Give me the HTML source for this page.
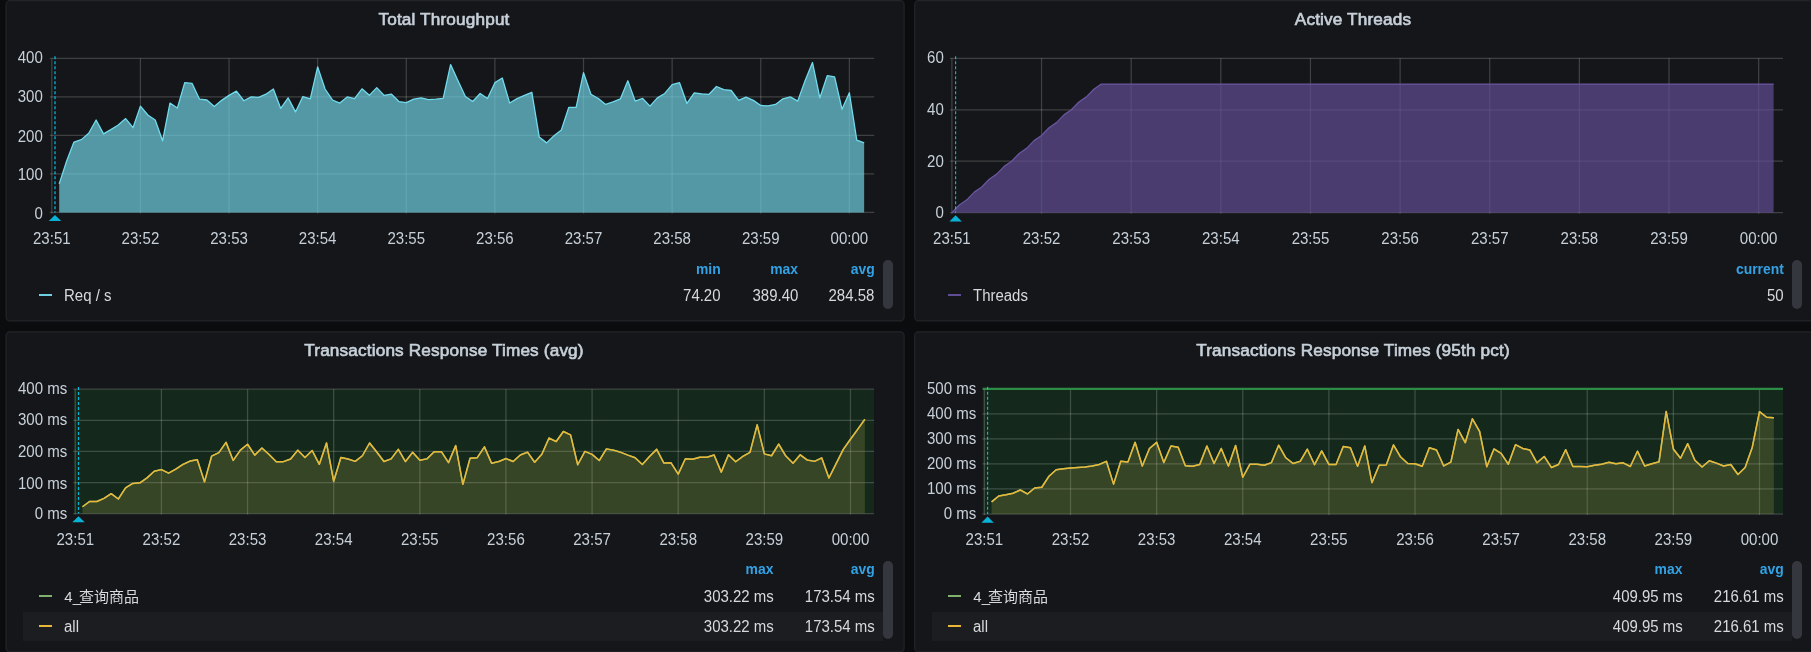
<!DOCTYPE html>
<html lang="en"><head><meta charset="utf-8"><title>Dashboard</title>
<style>
*{box-sizing:border-box;margin:0;padding:0}
html,body{width:1811px;height:652px;overflow:hidden;background:#0b0c0e}
body{will-change:transform;font-family:"Liberation Sans","Noto Sans CJK SC",sans-serif;color:#c7d0d9;position:relative}
.panel{position:absolute;width:899px;height:321px;border:1px solid transparent;overflow:hidden}
.frames{position:absolute;left:0;top:0}
.panel>*{position:absolute}
.chart{left:-1px;top:-1px}
.title{left:-1px;top:-1px;width:878px;height:38px;line-height:38px;text-align:center;font-size:17.2px;letter-spacing:0.15px;-webkit-text-stroke:0.65px #c7d0d9;white-space:nowrap}
.ax{font-size:15.8px;fill:#c7d0d9;font-family:"Liberation Sans",sans-serif}
.legend{left:16.9px;width:859.9px;font-size:15px;color:#d8d9da}
.lrow{position:relative;height:30px;line-height:29px;white-space:nowrap}
.lrow.lh{height:23.4px;line-height:23.2px}
.lrow.alt{background:#1c1d21;height:29.2px}
.lrow>*{position:absolute;top:0}
.hd{color:#33a2e5;font-weight:bold;font-size:13.9px}
.us{letter-spacing:-1.9px}
.ic{left:16.1px;top:13.5px !important;width:13.2px;height:2px;display:block}
.nm{left:41.4px;font-size:15.8px;transform:scaleX(0.948);transform-origin:left center}
.nm.cjk{font-size:15px;transform:none}
.val{font-size:15.8px;transform:scaleX(0.948);transform-origin:right center}
.thumb{left:877.3px;width:10px;border-radius:5px;background:#35373f}
</style></head><body>
<svg class="frames" width="1811" height="652" viewBox="0 0 1811 652">
<rect x="6.125" y="0.725" width="897.95" height="320.15" rx="3.75" fill="#141619" stroke="#222429" stroke-width="1.25"/>
<rect x="914.725" y="0.725" width="897.95" height="320.15" rx="3.75" fill="#141619" stroke="#222429" stroke-width="1.25"/>
<rect x="6.125" y="331.825" width="897.95" height="320.15" rx="3.75" fill="#141619" stroke="#222429" stroke-width="1.25"/>
<rect x="914.725" y="331.825" width="897.95" height="320.15" rx="3.75" fill="#141619" stroke="#222429" stroke-width="1.25"/>
</svg>
<section class="panel" style="left:5px;top:0px">
<svg class="chart" width="899" height="321" viewBox="0 0 899 321">
<path d="M135.42 58.4 V213.4 M224.04 58.4 V213.4 M312.66 58.4 V213.4 M401.28 58.4 V213.4 M489.9 58.4 V213.4 M578.52 58.4 V213.4 M667.14 58.4 V213.4 M755.76 58.4 V213.4 M844.38 58.4 V213.4 M46.8 58.4 V213.4" fill="none" stroke="rgba(255,255,255,0.18)" stroke-width="1.25"/>
<path d="M44.8 212.4 H869.2 M44.8 173.9 H869.2 M44.8 135.4 H869.2 M44.8 96.9 H869.2 M44.8 58.4 H869.2" fill="none" stroke="rgba(255,255,255,0.18)" stroke-width="1.25"/>
<path d="M54.18 183.83 L61.57 161.19 L68.95 142.1 L76.34 139.63 L83.72 133.24 L91.11 120 L98.5 133.86 L105.88 129.62 L113.27 125.01 L120.65 118.58 L128.03 127.7 L135.42 106.14 L142.81 115 L150.19 120 L157.57 140.79 L164.96 103.06 L172.35 108.07 L179.73 82.66 L187.12 83.43 L194.5 99.21 L201.88 99.98 L209.27 106.53 L216.66 100.36 L224.04 95.36 L231.43 91.13 L238.81 100.75 L246.19 96.9 L253.58 97.28 L260.96 94.21 L268.35 89.01 L275.74 108.45 L283.12 97.86 L290.5 111.92 L297.89 96.52 L305.28 98.83 L312.66 66.87 L320.05 89.01 L327.43 99.98 L334.81 103.06 L342.2 96.9 L349.59 98.63 L356.97 88.82 L364.36 95.36 L371.74 87.66 L379.13 95.36 L386.51 94.21 L393.9 101.52 L401.28 102.67 L408.67 99.21 L416.05 97.86 L423.44 99.59 L430.82 99.21 L438.21 98.44 L445.59 64.56 L452.98 80.73 L460.36 96.52 L467.75 101.52 L475.13 93.44 L482.52 98.44 L489.9 82.66 L497.29 78.03 L504.67 103.06 L512.05 98.63 L519.44 95.36 L526.83 92.28 L534.21 136.94 L541.6 142.87 L548.98 135.79 L556.37 130.01 L563.75 107.45 L571.13 107.3 L578.52 72.65 L585.9 94.21 L593.29 98.44 L600.67 104.41 L608.06 101.91 L615.45 98.83 L622.83 80.73 L630.21 101.14 L637.6 98.44 L644.99 106.14 L652.37 97.86 L659.75 93.44 L667.14 84.7 L674.52 82.66 L681.91 103.45 L689.29 92.78 L696.68 93.82 L704.07 94.32 L711.45 86.51 L718.83 89.59 L726.22 90.51 L733.61 100.36 L740.99 97.09 L748.38 100.36 L755.76 105.45 L763.15 105.95 L770.53 104.41 L777.91 98.83 L785.3 96.9 L792.68 101.14 L800.07 80.73 L807.46 62.48 L814.84 97.86 L822.23 75.73 L829.61 76.88 L836.99 109.22 L844.38 92.78 L851.77 140.02 L859.15 142.87 L859.15 212.4 L54.18 212.4 Z" fill="rgba(110,208,224,0.7)" stroke="none"/>
<path d="M54.18 183.83 L61.57 161.19 L68.95 142.1 L76.34 139.63 L83.72 133.24 L91.11 120 L98.5 133.86 L105.88 129.62 L113.27 125.01 L120.65 118.58 L128.03 127.7 L135.42 106.14 L142.81 115 L150.19 120 L157.57 140.79 L164.96 103.06 L172.35 108.07 L179.73 82.66 L187.12 83.43 L194.5 99.21 L201.88 99.98 L209.27 106.53 L216.66 100.36 L224.04 95.36 L231.43 91.13 L238.81 100.75 L246.19 96.9 L253.58 97.28 L260.96 94.21 L268.35 89.01 L275.74 108.45 L283.12 97.86 L290.5 111.92 L297.89 96.52 L305.28 98.83 L312.66 66.87 L320.05 89.01 L327.43 99.98 L334.81 103.06 L342.2 96.9 L349.59 98.63 L356.97 88.82 L364.36 95.36 L371.74 87.66 L379.13 95.36 L386.51 94.21 L393.9 101.52 L401.28 102.67 L408.67 99.21 L416.05 97.86 L423.44 99.59 L430.82 99.21 L438.21 98.44 L445.59 64.56 L452.98 80.73 L460.36 96.52 L467.75 101.52 L475.13 93.44 L482.52 98.44 L489.9 82.66 L497.29 78.03 L504.67 103.06 L512.05 98.63 L519.44 95.36 L526.83 92.28 L534.21 136.94 L541.6 142.87 L548.98 135.79 L556.37 130.01 L563.75 107.45 L571.13 107.3 L578.52 72.65 L585.9 94.21 L593.29 98.44 L600.67 104.41 L608.06 101.91 L615.45 98.83 L622.83 80.73 L630.21 101.14 L637.6 98.44 L644.99 106.14 L652.37 97.86 L659.75 93.44 L667.14 84.7 L674.52 82.66 L681.91 103.45 L689.29 92.78 L696.68 93.82 L704.07 94.32 L711.45 86.51 L718.83 89.59 L726.22 90.51 L733.61 100.36 L740.99 97.09 L748.38 100.36 L755.76 105.45 L763.15 105.95 L770.53 104.41 L777.91 98.83 L785.3 96.9 L792.68 101.14 L800.07 80.73 L807.46 62.48 L814.84 97.86 L822.23 75.73 L829.61 76.88 L836.99 109.22 L844.38 92.78 L851.77 140.02 L859.15 142.87" fill="none" stroke="#70dbed" stroke-width="1.3" stroke-linejoin="round"/>
<path d="M50 56.3 V212.4" stroke="rgba(0,211,255,0.55)" stroke-width="2.0" stroke-dasharray="3 2" fill="none"/>
<path d="M50 215 L56.2 221.1 L43.8 221.1 Z" fill="#0ab2d8"/>
<text transform="translate(37.8 218.9) scale(0.953 1)" text-anchor="end" class="ax">0</text>
<text transform="translate(37.8 179.9) scale(0.953 1)" text-anchor="end" class="ax">100</text>
<text transform="translate(37.8 142.1) scale(0.953 1)" text-anchor="end" class="ax">200</text>
<text transform="translate(37.8 101.9) scale(0.953 1)" text-anchor="end" class="ax">300</text>
<text transform="translate(37.8 63.3) scale(0.953 1)" text-anchor="end" class="ax">400</text>
<text transform="translate(46.8 243.7) scale(0.953 1)" text-anchor="middle" class="ax">23:51</text>
<text transform="translate(135.42 243.7) scale(0.953 1)" text-anchor="middle" class="ax">23:52</text>
<text transform="translate(224.04 243.7) scale(0.953 1)" text-anchor="middle" class="ax">23:53</text>
<text transform="translate(312.66 243.7) scale(0.953 1)" text-anchor="middle" class="ax">23:54</text>
<text transform="translate(401.28 243.7) scale(0.953 1)" text-anchor="middle" class="ax">23:55</text>
<text transform="translate(489.9 243.7) scale(0.953 1)" text-anchor="middle" class="ax">23:56</text>
<text transform="translate(578.52 243.7) scale(0.953 1)" text-anchor="middle" class="ax">23:57</text>
<text transform="translate(667.14 243.7) scale(0.953 1)" text-anchor="middle" class="ax">23:58</text>
<text transform="translate(755.76 243.7) scale(0.953 1)" text-anchor="middle" class="ax">23:59</text>
<text transform="translate(844.38 243.7) scale(0.953 1)" text-anchor="middle" class="ax">00:00</text>
</svg>
<h2 class="title" style="font-weight:normal">Total Throughput</h2>
<div class="legend" style="top:256.6px">
<div class="lrow lh"><span class="hd" style="right:162.1px">min</span><span class="hd" style="right:84.8px">max</span><span class="hd" style="right:8px">avg</span></div>
<div class="lrow"><i class="ic" style="background:#6ed0e0"></i><span class="nm">Req / s</span><span class="val" style="right:162.1px">74.20</span><span class="val" style="right:84.8px">389.40</span><span class="val" style="right:8px">284.58</span></div>
</div>
<div class="thumb" style="top:259px;height:48.8px"></div>
</section>
<section class="panel" style="left:914px;top:0px">
<svg class="chart" width="899" height="321" viewBox="0 0 899 321">
<path d="M127.54 58.3 V213.7 M217.18 58.3 V213.7 M306.82 58.3 V213.7 M396.46 58.3 V213.7 M486.1 58.3 V213.7 M575.74 58.3 V213.7 M665.38 58.3 V213.7 M755.02 58.3 V213.7 M844.66 58.3 V213.7 M37.9 58.3 V213.7" fill="none" stroke="rgba(255,255,255,0.18)" stroke-width="1.25"/>
<path d="M35.9 212.7 H869 M35.9 161.23 H869 M35.9 109.77 H869 M35.9 58.3 H869" fill="none" stroke="rgba(255,255,255,0.18)" stroke-width="1.25"/>
<path d="M37.9 212.7 L45.37 204.98 L52.84 199.83 L60.31 192.11 L67.78 186.97 L75.25 179.25 L82.72 174.1 L90.19 166.38 L97.66 161.23 L105.13 153.51 L112.6 148.37 L120.07 140.65 L127.54 135.5 L135.01 127.78 L142.48 122.63 L149.95 114.91 L157.42 109.77 L164.89 102.05 L172.36 96.9 L179.83 89.18 L187.3 84.03 L194.77 84.03 L202.24 84.03 L209.71 84.03 L217.18 84.03 L224.65 84.03 L232.12 84.03 L239.59 84.03 L247.06 84.03 L254.53 84.03 L262 84.03 L269.47 84.03 L276.94 84.03 L284.41 84.03 L291.88 84.03 L299.35 84.03 L306.82 84.03 L314.29 84.03 L321.76 84.03 L329.23 84.03 L336.7 84.03 L344.17 84.03 L351.64 84.03 L359.11 84.03 L366.58 84.03 L374.05 84.03 L381.52 84.03 L388.99 84.03 L396.46 84.03 L403.93 84.03 L411.4 84.03 L418.87 84.03 L426.34 84.03 L433.81 84.03 L441.28 84.03 L448.75 84.03 L456.22 84.03 L463.69 84.03 L471.16 84.03 L478.63 84.03 L486.1 84.03 L493.57 84.03 L501.04 84.03 L508.51 84.03 L515.98 84.03 L523.45 84.03 L530.92 84.03 L538.39 84.03 L545.86 84.03 L553.33 84.03 L560.8 84.03 L568.27 84.03 L575.74 84.03 L583.21 84.03 L590.68 84.03 L598.15 84.03 L605.62 84.03 L613.09 84.03 L620.56 84.03 L628.03 84.03 L635.5 84.03 L642.97 84.03 L650.44 84.03 L657.91 84.03 L665.38 84.03 L672.85 84.03 L680.32 84.03 L687.79 84.03 L695.26 84.03 L702.73 84.03 L710.2 84.03 L717.67 84.03 L725.14 84.03 L732.61 84.03 L740.08 84.03 L747.55 84.03 L755.02 84.03 L762.49 84.03 L769.96 84.03 L777.43 84.03 L784.9 84.03 L792.37 84.03 L799.84 84.03 L807.31 84.03 L814.78 84.03 L822.25 84.03 L829.72 84.03 L837.19 84.03 L844.66 84.03 L852.13 84.03 L859.6 84.03 L859.6 212.7 L37.9 212.7 Z" fill="rgba(97,77,147,0.7)" stroke="none"/>
<path d="M37.9 212.7 L45.37 204.98 L52.84 199.83 L60.31 192.11 L67.78 186.97 L75.25 179.25 L82.72 174.1 L90.19 166.38 L97.66 161.23 L105.13 153.51 L112.6 148.37 L120.07 140.65 L127.54 135.5 L135.01 127.78 L142.48 122.63 L149.95 114.91 L157.42 109.77 L164.89 102.05 L172.36 96.9 L179.83 89.18 L187.3 84.03 L194.77 84.03 L202.24 84.03 L209.71 84.03 L217.18 84.03 L224.65 84.03 L232.12 84.03 L239.59 84.03 L247.06 84.03 L254.53 84.03 L262 84.03 L269.47 84.03 L276.94 84.03 L284.41 84.03 L291.88 84.03 L299.35 84.03 L306.82 84.03 L314.29 84.03 L321.76 84.03 L329.23 84.03 L336.7 84.03 L344.17 84.03 L351.64 84.03 L359.11 84.03 L366.58 84.03 L374.05 84.03 L381.52 84.03 L388.99 84.03 L396.46 84.03 L403.93 84.03 L411.4 84.03 L418.87 84.03 L426.34 84.03 L433.81 84.03 L441.28 84.03 L448.75 84.03 L456.22 84.03 L463.69 84.03 L471.16 84.03 L478.63 84.03 L486.1 84.03 L493.57 84.03 L501.04 84.03 L508.51 84.03 L515.98 84.03 L523.45 84.03 L530.92 84.03 L538.39 84.03 L545.86 84.03 L553.33 84.03 L560.8 84.03 L568.27 84.03 L575.74 84.03 L583.21 84.03 L590.68 84.03 L598.15 84.03 L605.62 84.03 L613.09 84.03 L620.56 84.03 L628.03 84.03 L635.5 84.03 L642.97 84.03 L650.44 84.03 L657.91 84.03 L665.38 84.03 L672.85 84.03 L680.32 84.03 L687.79 84.03 L695.26 84.03 L702.73 84.03 L710.2 84.03 L717.67 84.03 L725.14 84.03 L732.61 84.03 L740.08 84.03 L747.55 84.03 L755.02 84.03 L762.49 84.03 L769.96 84.03 L777.43 84.03 L784.9 84.03 L792.37 84.03 L799.84 84.03 L807.31 84.03 L814.78 84.03 L822.25 84.03 L829.72 84.03 L837.19 84.03 L844.66 84.03 L852.13 84.03 L859.6 84.03" fill="none" stroke="#6a55a0" stroke-width="1.3" stroke-linejoin="round"/>
<path d="M41.6 56.2 V212.7" stroke="rgba(0,211,255,0.85)" stroke-width="1.15" stroke-dasharray="3 2" fill="none"/>
<path d="M41.6 215.3 L47.8 221.4 L35.4 221.4 Z" fill="#0ab2d8"/>
<text transform="translate(29.8 218.3) scale(0.953 1)" text-anchor="end" class="ax">0</text>
<text transform="translate(29.8 166.53) scale(0.953 1)" text-anchor="end" class="ax">20</text>
<text transform="translate(29.8 114.67) scale(0.953 1)" text-anchor="end" class="ax">40</text>
<text transform="translate(29.8 63.2) scale(0.953 1)" text-anchor="end" class="ax">60</text>
<text transform="translate(37.9 244) scale(0.953 1)" text-anchor="middle" class="ax">23:51</text>
<text transform="translate(127.54 244) scale(0.953 1)" text-anchor="middle" class="ax">23:52</text>
<text transform="translate(217.18 244) scale(0.953 1)" text-anchor="middle" class="ax">23:53</text>
<text transform="translate(306.82 244) scale(0.953 1)" text-anchor="middle" class="ax">23:54</text>
<text transform="translate(396.46 244) scale(0.953 1)" text-anchor="middle" class="ax">23:55</text>
<text transform="translate(486.1 244) scale(0.953 1)" text-anchor="middle" class="ax">23:56</text>
<text transform="translate(575.74 244) scale(0.953 1)" text-anchor="middle" class="ax">23:57</text>
<text transform="translate(665.38 244) scale(0.953 1)" text-anchor="middle" class="ax">23:58</text>
<text transform="translate(755.02 244) scale(0.953 1)" text-anchor="middle" class="ax">23:59</text>
<text transform="translate(844.66 244) scale(0.953 1)" text-anchor="middle" class="ax">00:00</text>
</svg>
<h2 class="title" style="font-weight:normal">Active Threads</h2>
<div class="legend" style="top:256.6px">
<div class="lrow lh"><span class="hd" style="right:8px">current</span></div>
<div class="lrow"><i class="ic" style="background:#614d93"></i><span class="nm">Threads</span><span class="val" style="right:8px">50</span></div>
</div>
<div class="thumb" style="top:259px;height:48.8px"></div>
</section>
<section class="panel" style="left:5px;top:331px">
<svg class="chart" width="899" height="321" viewBox="0 0 899 321">
<rect x="68.7" y="58.2" width="800.3" height="124.4" fill="#14291c"/>
<path d="M156.43 58.2 V183.6 M242.56 58.2 V183.6 M328.69 58.2 V183.6 M414.82 58.2 V183.6 M500.95 58.2 V183.6 M587.08 58.2 V183.6 M673.21 58.2 V183.6 M759.34 58.2 V183.6 M845.47 58.2 V183.6 M70.3 58.2 V183.6" fill="none" stroke="rgba(255,255,255,0.18)" stroke-width="1.25"/>
<path d="M68.3 182.6 H869 M68.3 151.5 H869 M68.3 120.4 H869 M68.3 89.3 H869 M68.3 58.2 H869" fill="none" stroke="rgba(255,255,255,0.18)" stroke-width="1.25"/>
<path d="M77.48 175.76 L84.66 170.47 L91.83 170.47 L99.01 167.36 L106.19 162.7 L113.36 167.98 L120.54 156.79 L127.72 152.43 L134.9 151.81 L142.07 146.84 L149.25 140.3 L156.43 138.59 L163.61 142.17 L170.78 138.13 L177.96 133.46 L185.14 130.04 L192.32 128.8 L199.5 150.88 L206.67 125.06 L213.85 121.64 L221.03 111.38 L228.2 129.42 L235.38 119.16 L242.56 113.25 L249.74 124.13 L256.91 116.98 L264.09 123.51 L271.27 130.66 L278.45 130.66 L285.62 127.99 L292.8 119.16 L299.98 126.46 L307.16 119.47 L314.33 133.31 L321.51 112 L328.69 150.26 L335.87 126.46 L343.04 127.99 L350.22 130.35 L357.4 124.75 L364.58 112 L371.75 121.02 L378.93 130.51 L386.11 127.86 L393.29 118.38 L400.47 130.51 L407.64 121.33 L414.82 129.26 L422 127.86 L429.18 120.71 L436.35 120.71 L443.53 131.6 L450.71 114.58 L457.88 153.37 L465.06 127.24 L472.24 126.71 L479.42 115.86 L486.59 132.22 L493.77 130.51 L500.95 127.55 L508.13 130.51 L515.3 123.95 L522.48 121.18 L529.66 131.29 L536.84 123.2 L544.01 107.03 L551.19 110.54 L558.37 100.5 L565.55 103.92 L572.72 133.77 L579.9 120.4 L587.08 123.35 L594.26 129.51 L601.43 117.91 L608.61 119.16 L615.79 121.33 L622.97 124.13 L630.14 126.71 L637.32 133.56 L644.5 125.47 L651.68 118.38 L658.85 132.03 L666.03 131.78 L673.21 143.17 L680.39 127.74 L687.56 128.24 L694.74 126.22 L701.92 126.22 L709.1 123.95 L716.27 141.14 L723.45 123.7 L730.63 130.76 L737.81 125.47 L744.98 121.43 L752.16 93.84 L759.34 122.89 L766.52 124.75 L773.69 113.06 L780.87 125.06 L788.05 132.22 L795.23 123.82 L802.4 129.11 L809.58 130.35 L816.76 126.93 L823.94 146.96 L831.12 132.65 L838.29 118.38 L845.47 108.27 L852.65 98.41 L859.82 88.3 L859.82 182.6 L77.48 182.6 Z" fill="rgba(126,178,109,0.1)" stroke="none"/>
<path d="M77.48 175.76 L84.66 170.47 L91.83 170.47 L99.01 167.36 L106.19 162.7 L113.36 167.98 L120.54 156.79 L127.72 152.43 L134.9 151.81 L142.07 146.84 L149.25 140.3 L156.43 138.59 L163.61 142.17 L170.78 138.13 L177.96 133.46 L185.14 130.04 L192.32 128.8 L199.5 150.88 L206.67 125.06 L213.85 121.64 L221.03 111.38 L228.2 129.42 L235.38 119.16 L242.56 113.25 L249.74 124.13 L256.91 116.98 L264.09 123.51 L271.27 130.66 L278.45 130.66 L285.62 127.99 L292.8 119.16 L299.98 126.46 L307.16 119.47 L314.33 133.31 L321.51 112 L328.69 150.26 L335.87 126.46 L343.04 127.99 L350.22 130.35 L357.4 124.75 L364.58 112 L371.75 121.02 L378.93 130.51 L386.11 127.86 L393.29 118.38 L400.47 130.51 L407.64 121.33 L414.82 129.26 L422 127.86 L429.18 120.71 L436.35 120.71 L443.53 131.6 L450.71 114.58 L457.88 153.37 L465.06 127.24 L472.24 126.71 L479.42 115.86 L486.59 132.22 L493.77 130.51 L500.95 127.55 L508.13 130.51 L515.3 123.95 L522.48 121.18 L529.66 131.29 L536.84 123.2 L544.01 107.03 L551.19 110.54 L558.37 100.5 L565.55 103.92 L572.72 133.77 L579.9 120.4 L587.08 123.35 L594.26 129.51 L601.43 117.91 L608.61 119.16 L615.79 121.33 L622.97 124.13 L630.14 126.71 L637.32 133.56 L644.5 125.47 L651.68 118.38 L658.85 132.03 L666.03 131.78 L673.21 143.17 L680.39 127.74 L687.56 128.24 L694.74 126.22 L701.92 126.22 L709.1 123.95 L716.27 141.14 L723.45 123.7 L730.63 130.76 L737.81 125.47 L744.98 121.43 L752.16 93.84 L759.34 122.89 L766.52 124.75 L773.69 113.06 L780.87 125.06 L788.05 132.22 L795.23 123.82 L802.4 129.11 L809.58 130.35 L816.76 126.93 L823.94 146.96 L831.12 132.65 L838.29 118.38 L845.47 108.27 L852.65 98.41 L859.82 88.3" fill="none" stroke="#7eb26d" stroke-width="1.5" stroke-linejoin="round"/>
<path d="M77.48 175.76 L84.66 170.47 L91.83 170.47 L99.01 167.36 L106.19 162.7 L113.36 167.98 L120.54 156.79 L127.72 152.43 L134.9 151.81 L142.07 146.84 L149.25 140.3 L156.43 138.59 L163.61 142.17 L170.78 138.13 L177.96 133.46 L185.14 130.04 L192.32 128.8 L199.5 150.88 L206.67 125.06 L213.85 121.64 L221.03 111.38 L228.2 129.42 L235.38 119.16 L242.56 113.25 L249.74 124.13 L256.91 116.98 L264.09 123.51 L271.27 130.66 L278.45 130.66 L285.62 127.99 L292.8 119.16 L299.98 126.46 L307.16 119.47 L314.33 133.31 L321.51 112 L328.69 150.26 L335.87 126.46 L343.04 127.99 L350.22 130.35 L357.4 124.75 L364.58 112 L371.75 121.02 L378.93 130.51 L386.11 127.86 L393.29 118.38 L400.47 130.51 L407.64 121.33 L414.82 129.26 L422 127.86 L429.18 120.71 L436.35 120.71 L443.53 131.6 L450.71 114.58 L457.88 153.37 L465.06 127.24 L472.24 126.71 L479.42 115.86 L486.59 132.22 L493.77 130.51 L500.95 127.55 L508.13 130.51 L515.3 123.95 L522.48 121.18 L529.66 131.29 L536.84 123.2 L544.01 107.03 L551.19 110.54 L558.37 100.5 L565.55 103.92 L572.72 133.77 L579.9 120.4 L587.08 123.35 L594.26 129.51 L601.43 117.91 L608.61 119.16 L615.79 121.33 L622.97 124.13 L630.14 126.71 L637.32 133.56 L644.5 125.47 L651.68 118.38 L658.85 132.03 L666.03 131.78 L673.21 143.17 L680.39 127.74 L687.56 128.24 L694.74 126.22 L701.92 126.22 L709.1 123.95 L716.27 141.14 L723.45 123.7 L730.63 130.76 L737.81 125.47 L744.98 121.43 L752.16 93.84 L759.34 122.89 L766.52 124.75 L773.69 113.06 L780.87 125.06 L788.05 132.22 L795.23 123.82 L802.4 129.11 L809.58 130.35 L816.76 126.93 L823.94 146.96 L831.12 132.65 L838.29 118.38 L845.47 108.27 L852.65 98.41 L859.82 88.3 L859.82 182.6 L77.48 182.6 Z" fill="rgba(234,184,57,0.12)" stroke="none"/>
<path d="M77.48 175.76 L84.66 170.47 L91.83 170.47 L99.01 167.36 L106.19 162.7 L113.36 167.98 L120.54 156.79 L127.72 152.43 L134.9 151.81 L142.07 146.84 L149.25 140.3 L156.43 138.59 L163.61 142.17 L170.78 138.13 L177.96 133.46 L185.14 130.04 L192.32 128.8 L199.5 150.88 L206.67 125.06 L213.85 121.64 L221.03 111.38 L228.2 129.42 L235.38 119.16 L242.56 113.25 L249.74 124.13 L256.91 116.98 L264.09 123.51 L271.27 130.66 L278.45 130.66 L285.62 127.99 L292.8 119.16 L299.98 126.46 L307.16 119.47 L314.33 133.31 L321.51 112 L328.69 150.26 L335.87 126.46 L343.04 127.99 L350.22 130.35 L357.4 124.75 L364.58 112 L371.75 121.02 L378.93 130.51 L386.11 127.86 L393.29 118.38 L400.47 130.51 L407.64 121.33 L414.82 129.26 L422 127.86 L429.18 120.71 L436.35 120.71 L443.53 131.6 L450.71 114.58 L457.88 153.37 L465.06 127.24 L472.24 126.71 L479.42 115.86 L486.59 132.22 L493.77 130.51 L500.95 127.55 L508.13 130.51 L515.3 123.95 L522.48 121.18 L529.66 131.29 L536.84 123.2 L544.01 107.03 L551.19 110.54 L558.37 100.5 L565.55 103.92 L572.72 133.77 L579.9 120.4 L587.08 123.35 L594.26 129.51 L601.43 117.91 L608.61 119.16 L615.79 121.33 L622.97 124.13 L630.14 126.71 L637.32 133.56 L644.5 125.47 L651.68 118.38 L658.85 132.03 L666.03 131.78 L673.21 143.17 L680.39 127.74 L687.56 128.24 L694.74 126.22 L701.92 126.22 L709.1 123.95 L716.27 141.14 L723.45 123.7 L730.63 130.76 L737.81 125.47 L744.98 121.43 L752.16 93.84 L759.34 122.89 L766.52 124.75 L773.69 113.06 L780.87 125.06 L788.05 132.22 L795.23 123.82 L802.4 129.11 L809.58 130.35 L816.76 126.93 L823.94 146.96 L831.12 132.65 L838.29 118.38 L845.47 108.27 L852.65 98.41 L859.82 88.3" fill="none" stroke="#eab839" stroke-width="1.45" stroke-linejoin="round"/>
<path d="M73.5 56.1 V182.6" stroke="rgba(0,211,255,0.85)" stroke-width="1.15" stroke-dasharray="3 2" fill="none"/>
<path d="M73.5 185.2 L79.7 191.3 L67.3 191.3 Z" fill="#0ab2d8"/>
<text transform="translate(62.3 188) scale(0.953 1)" text-anchor="end" class="ax">0 ms</text>
<text transform="translate(62.3 157.8) scale(0.953 1)" text-anchor="end" class="ax">100 ms</text>
<text transform="translate(62.3 125.5) scale(0.953 1)" text-anchor="end" class="ax">200 ms</text>
<text transform="translate(62.3 94.2) scale(0.953 1)" text-anchor="end" class="ax">300 ms</text>
<text transform="translate(62.3 63.1) scale(0.953 1)" text-anchor="end" class="ax">400 ms</text>
<text transform="translate(70.3 213.9) scale(0.953 1)" text-anchor="middle" class="ax">23:51</text>
<text transform="translate(156.43 213.9) scale(0.953 1)" text-anchor="middle" class="ax">23:52</text>
<text transform="translate(242.56 213.9) scale(0.953 1)" text-anchor="middle" class="ax">23:53</text>
<text transform="translate(328.69 213.9) scale(0.953 1)" text-anchor="middle" class="ax">23:54</text>
<text transform="translate(414.82 213.9) scale(0.953 1)" text-anchor="middle" class="ax">23:55</text>
<text transform="translate(500.95 213.9) scale(0.953 1)" text-anchor="middle" class="ax">23:56</text>
<text transform="translate(587.08 213.9) scale(0.953 1)" text-anchor="middle" class="ax">23:57</text>
<text transform="translate(673.21 213.9) scale(0.953 1)" text-anchor="middle" class="ax">23:58</text>
<text transform="translate(759.34 213.9) scale(0.953 1)" text-anchor="middle" class="ax">23:59</text>
<text transform="translate(845.47 213.9) scale(0.953 1)" text-anchor="middle" class="ax">00:00</text>
</svg>
<h2 class="title" style="font-weight:normal">Transactions Response Times (avg)</h2>
<div class="legend" style="top:226.4px">
<div class="lrow lh"><span class="hd" style="right:109.4px">max</span><span class="hd" style="right:8.1px">avg</span></div>
<div class="lrow"><i class="ic" style="background:#7eb26d"></i><span class="nm cjk">4<span class="us">_</span>查询商品</span><span class="val" style="right:109.4px">303.22 ms</span><span class="val" style="right:8.1px">173.54 ms</span></div>
<div class="lrow alt"><i class="ic" style="background:#eab839"></i><span class="nm">all</span><span class="val" style="right:109.4px">303.22 ms</span><span class="val" style="right:8.1px">173.54 ms</span></div>
</div>
<div class="thumb" style="top:229px;height:78.2px"></div>
</section>
<section class="panel" style="left:914px;top:331px">
<svg class="chart" width="899" height="321" viewBox="0 0 899 321">
<rect x="68.8" y="57.9" width="800.2" height="125.1" fill="#14291c"/>
<path d="M156.52 57.9 V184 M242.64 57.9 V184 M328.76 57.9 V184 M414.88 57.9 V184 M501 57.9 V184 M587.12 57.9 V184 M673.24 57.9 V184 M759.36 57.9 V184 M845.48 57.9 V184 M70.4 57.9 V184" fill="none" stroke="rgba(255,255,255,0.18)" stroke-width="1.25"/>
<path d="M68.4 183 H869 M68.4 157.98 H869 M68.4 132.96 H869 M68.4 107.94 H869 M68.4 82.92 H869 M68.4 57.9 H869" fill="none" stroke="rgba(255,255,255,0.18)" stroke-width="1.25"/>
<path d="M77.58 170.84 L84.75 164.99 L91.93 163.73 L99.11 162.23 L106.28 158.98 L113.46 162.98 L120.64 156.98 L127.81 156.23 L134.99 145.22 L142.17 138.71 L149.34 137.71 L156.52 136.96 L163.7 136.46 L170.87 135.96 L178.05 134.96 L185.23 133.46 L192.4 130.33 L199.58 153.13 L206.76 130.33 L213.93 131.08 L221.11 111.34 L228.29 134.96 L235.46 117.45 L242.64 111.34 L249.82 131.58 L256.99 114.95 L264.17 116.2 L271.35 134.71 L278.52 135.21 L285.7 133.46 L292.88 114.95 L300.05 132.46 L307.23 117.45 L314.41 134.96 L321.58 114.45 L328.76 146.27 L335.94 133.21 L343.11 133.21 L350.29 134.21 L357.47 131.58 L364.64 114.19 L371.82 126.78 L379 132.46 L386.17 130.33 L393.35 118.2 L400.53 133.71 L407.7 119.95 L414.88 133.46 L422.06 133.46 L429.23 115.45 L436.41 116.7 L443.59 135.21 L450.76 114.95 L457.94 151.6 L465.12 134.21 L472.29 133.96 L479.47 113.94 L486.65 126.03 L493.82 132.46 L501 132.71 L508.18 135.21 L515.35 116.7 L522.53 118.95 L529.71 134.96 L536.88 131.08 L544.06 98.43 L551.24 111.69 L558.41 87.77 L565.59 100.43 L572.77 135.71 L579.94 117.95 L587.12 122.45 L594.3 133.21 L601.47 113.69 L608.65 117.45 L615.83 118.95 L623 131.83 L630.18 125.45 L637.36 136.46 L644.53 133.46 L651.71 118.7 L658.89 135.46 L666.06 135.46 L673.24 135.71 L680.42 134.21 L687.59 133.21 L694.77 131.33 L701.95 132.71 L709.12 131.83 L716.3 135.46 L723.48 120.2 L730.65 134.96 L737.83 132.71 L745.01 130.83 L752.18 80.43 L759.36 117.95 L766.54 127.28 L773.71 112.69 L780.89 129.31 L788.07 135.96 L795.24 129.81 L802.42 132.11 L809.6 134.96 L816.77 133.46 L823.95 143.47 L831.13 136.46 L838.3 116.2 L845.48 80.67 L852.66 86.27 L859.83 86.77 L859.83 183 L77.58 183 Z" fill="rgba(126,178,109,0.1)" stroke="none"/>
<path d="M77.58 170.84 L84.75 164.99 L91.93 163.73 L99.11 162.23 L106.28 158.98 L113.46 162.98 L120.64 156.98 L127.81 156.23 L134.99 145.22 L142.17 138.71 L149.34 137.71 L156.52 136.96 L163.7 136.46 L170.87 135.96 L178.05 134.96 L185.23 133.46 L192.4 130.33 L199.58 153.13 L206.76 130.33 L213.93 131.08 L221.11 111.34 L228.29 134.96 L235.46 117.45 L242.64 111.34 L249.82 131.58 L256.99 114.95 L264.17 116.2 L271.35 134.71 L278.52 135.21 L285.7 133.46 L292.88 114.95 L300.05 132.46 L307.23 117.45 L314.41 134.96 L321.58 114.45 L328.76 146.27 L335.94 133.21 L343.11 133.21 L350.29 134.21 L357.47 131.58 L364.64 114.19 L371.82 126.78 L379 132.46 L386.17 130.33 L393.35 118.2 L400.53 133.71 L407.7 119.95 L414.88 133.46 L422.06 133.46 L429.23 115.45 L436.41 116.7 L443.59 135.21 L450.76 114.95 L457.94 151.6 L465.12 134.21 L472.29 133.96 L479.47 113.94 L486.65 126.03 L493.82 132.46 L501 132.71 L508.18 135.21 L515.35 116.7 L522.53 118.95 L529.71 134.96 L536.88 131.08 L544.06 98.43 L551.24 111.69 L558.41 87.77 L565.59 100.43 L572.77 135.71 L579.94 117.95 L587.12 122.45 L594.3 133.21 L601.47 113.69 L608.65 117.45 L615.83 118.95 L623 131.83 L630.18 125.45 L637.36 136.46 L644.53 133.46 L651.71 118.7 L658.89 135.46 L666.06 135.46 L673.24 135.71 L680.42 134.21 L687.59 133.21 L694.77 131.33 L701.95 132.71 L709.12 131.83 L716.3 135.46 L723.48 120.2 L730.65 134.96 L737.83 132.71 L745.01 130.83 L752.18 80.43 L759.36 117.95 L766.54 127.28 L773.71 112.69 L780.89 129.31 L788.07 135.96 L795.24 129.81 L802.42 132.11 L809.6 134.96 L816.77 133.46 L823.95 143.47 L831.13 136.46 L838.3 116.2 L845.48 80.67 L852.66 86.27 L859.83 86.77" fill="none" stroke="#7eb26d" stroke-width="1.5" stroke-linejoin="round"/>
<path d="M77.58 170.84 L84.75 164.99 L91.93 163.73 L99.11 162.23 L106.28 158.98 L113.46 162.98 L120.64 156.98 L127.81 156.23 L134.99 145.22 L142.17 138.71 L149.34 137.71 L156.52 136.96 L163.7 136.46 L170.87 135.96 L178.05 134.96 L185.23 133.46 L192.4 130.33 L199.58 153.13 L206.76 130.33 L213.93 131.08 L221.11 111.34 L228.29 134.96 L235.46 117.45 L242.64 111.34 L249.82 131.58 L256.99 114.95 L264.17 116.2 L271.35 134.71 L278.52 135.21 L285.7 133.46 L292.88 114.95 L300.05 132.46 L307.23 117.45 L314.41 134.96 L321.58 114.45 L328.76 146.27 L335.94 133.21 L343.11 133.21 L350.29 134.21 L357.47 131.58 L364.64 114.19 L371.82 126.78 L379 132.46 L386.17 130.33 L393.35 118.2 L400.53 133.71 L407.7 119.95 L414.88 133.46 L422.06 133.46 L429.23 115.45 L436.41 116.7 L443.59 135.21 L450.76 114.95 L457.94 151.6 L465.12 134.21 L472.29 133.96 L479.47 113.94 L486.65 126.03 L493.82 132.46 L501 132.71 L508.18 135.21 L515.35 116.7 L522.53 118.95 L529.71 134.96 L536.88 131.08 L544.06 98.43 L551.24 111.69 L558.41 87.77 L565.59 100.43 L572.77 135.71 L579.94 117.95 L587.12 122.45 L594.3 133.21 L601.47 113.69 L608.65 117.45 L615.83 118.95 L623 131.83 L630.18 125.45 L637.36 136.46 L644.53 133.46 L651.71 118.7 L658.89 135.46 L666.06 135.46 L673.24 135.71 L680.42 134.21 L687.59 133.21 L694.77 131.33 L701.95 132.71 L709.12 131.83 L716.3 135.46 L723.48 120.2 L730.65 134.96 L737.83 132.71 L745.01 130.83 L752.18 80.43 L759.36 117.95 L766.54 127.28 L773.71 112.69 L780.89 129.31 L788.07 135.96 L795.24 129.81 L802.42 132.11 L809.6 134.96 L816.77 133.46 L823.95 143.47 L831.13 136.46 L838.3 116.2 L845.48 80.67 L852.66 86.27 L859.83 86.77 L859.83 183 L77.58 183 Z" fill="rgba(234,184,57,0.12)" stroke="none"/>
<path d="M77.58 170.84 L84.75 164.99 L91.93 163.73 L99.11 162.23 L106.28 158.98 L113.46 162.98 L120.64 156.98 L127.81 156.23 L134.99 145.22 L142.17 138.71 L149.34 137.71 L156.52 136.96 L163.7 136.46 L170.87 135.96 L178.05 134.96 L185.23 133.46 L192.4 130.33 L199.58 153.13 L206.76 130.33 L213.93 131.08 L221.11 111.34 L228.29 134.96 L235.46 117.45 L242.64 111.34 L249.82 131.58 L256.99 114.95 L264.17 116.2 L271.35 134.71 L278.52 135.21 L285.7 133.46 L292.88 114.95 L300.05 132.46 L307.23 117.45 L314.41 134.96 L321.58 114.45 L328.76 146.27 L335.94 133.21 L343.11 133.21 L350.29 134.21 L357.47 131.58 L364.64 114.19 L371.82 126.78 L379 132.46 L386.17 130.33 L393.35 118.2 L400.53 133.71 L407.7 119.95 L414.88 133.46 L422.06 133.46 L429.23 115.45 L436.41 116.7 L443.59 135.21 L450.76 114.95 L457.94 151.6 L465.12 134.21 L472.29 133.96 L479.47 113.94 L486.65 126.03 L493.82 132.46 L501 132.71 L508.18 135.21 L515.35 116.7 L522.53 118.95 L529.71 134.96 L536.88 131.08 L544.06 98.43 L551.24 111.69 L558.41 87.77 L565.59 100.43 L572.77 135.71 L579.94 117.95 L587.12 122.45 L594.3 133.21 L601.47 113.69 L608.65 117.45 L615.83 118.95 L623 131.83 L630.18 125.45 L637.36 136.46 L644.53 133.46 L651.71 118.7 L658.89 135.46 L666.06 135.46 L673.24 135.71 L680.42 134.21 L687.59 133.21 L694.77 131.33 L701.95 132.71 L709.12 131.83 L716.3 135.46 L723.48 120.2 L730.65 134.96 L737.83 132.71 L745.01 130.83 L752.18 80.43 L759.36 117.95 L766.54 127.28 L773.71 112.69 L780.89 129.31 L788.07 135.96 L795.24 129.81 L802.42 132.11 L809.6 134.96 L816.77 133.46 L823.95 143.47 L831.13 136.46 L838.3 116.2 L845.48 80.67 L852.66 86.27 L859.83 86.77" fill="none" stroke="#eab839" stroke-width="1.45" stroke-linejoin="round"/>
<path d="M68.8 57.9 H869" stroke="#2c8c45" stroke-width="2.3" fill="none"/>
<path d="M73.6 55.8 V183" stroke="rgba(0,211,255,0.85)" stroke-width="1.15" stroke-dasharray="3 2" fill="none"/>
<path d="M73.6 185.6 L79.8 191.7 L67.4 191.7 Z" fill="#0ab2d8"/>
<text transform="translate(62.3 188.4) scale(0.953 1)" text-anchor="end" class="ax">0 ms</text>
<text transform="translate(62.3 163.28) scale(0.953 1)" text-anchor="end" class="ax">100 ms</text>
<text transform="translate(62.3 138.16) scale(0.953 1)" text-anchor="end" class="ax">200 ms</text>
<text transform="translate(62.3 112.84) scale(0.953 1)" text-anchor="end" class="ax">300 ms</text>
<text transform="translate(62.3 87.82) scale(0.953 1)" text-anchor="end" class="ax">400 ms</text>
<text transform="translate(62.3 62.8) scale(0.953 1)" text-anchor="end" class="ax">500 ms</text>
<text transform="translate(70.4 214.3) scale(0.953 1)" text-anchor="middle" class="ax">23:51</text>
<text transform="translate(156.52 214.3) scale(0.953 1)" text-anchor="middle" class="ax">23:52</text>
<text transform="translate(242.64 214.3) scale(0.953 1)" text-anchor="middle" class="ax">23:53</text>
<text transform="translate(328.76 214.3) scale(0.953 1)" text-anchor="middle" class="ax">23:54</text>
<text transform="translate(414.88 214.3) scale(0.953 1)" text-anchor="middle" class="ax">23:55</text>
<text transform="translate(501 214.3) scale(0.953 1)" text-anchor="middle" class="ax">23:56</text>
<text transform="translate(587.12 214.3) scale(0.953 1)" text-anchor="middle" class="ax">23:57</text>
<text transform="translate(673.24 214.3) scale(0.953 1)" text-anchor="middle" class="ax">23:58</text>
<text transform="translate(759.36 214.3) scale(0.953 1)" text-anchor="middle" class="ax">23:59</text>
<text transform="translate(845.48 214.3) scale(0.953 1)" text-anchor="middle" class="ax">00:00</text>
</svg>
<h2 class="title" style="font-weight:normal">Transactions Response Times (95th pct)</h2>
<div class="legend" style="top:226.4px">
<div class="lrow lh"><span class="hd" style="right:109.4px">max</span><span class="hd" style="right:8.1px">avg</span></div>
<div class="lrow"><i class="ic" style="background:#7eb26d"></i><span class="nm cjk">4<span class="us">_</span>查询商品</span><span class="val" style="right:109.4px">409.95 ms</span><span class="val" style="right:8.1px">216.61 ms</span></div>
<div class="lrow alt"><i class="ic" style="background:#eab839"></i><span class="nm">all</span><span class="val" style="right:109.4px">409.95 ms</span><span class="val" style="right:8.1px">216.61 ms</span></div>
</div>
<div class="thumb" style="top:229px;height:78.2px"></div>
</section>
</body></html>
